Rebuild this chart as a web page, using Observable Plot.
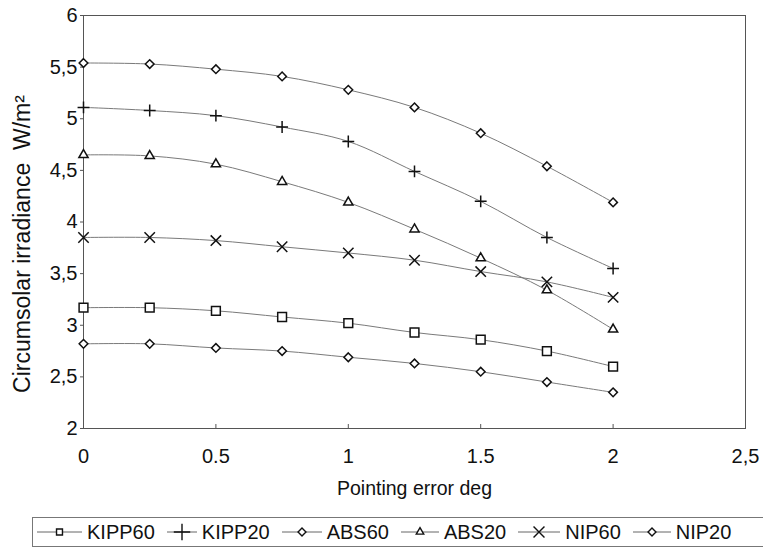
<!DOCTYPE html>
<html>
<head>
<meta charset="utf-8">
<script src="https://cdn.jsdelivr.net/npm/d3@7"></script>
<script src="https://cdn.jsdelivr.net/npm/@observablehq/plot@0.6"></script>
<style>
  html, body { margin: 0; padding: 0; background: #fff; overflow: hidden; }
  body { width: 763px; height: 554px; position: relative; font-family: "Liberation Sans", Arial, sans-serif; }
  #legend { position: absolute; left: 32px; top: 517px; width: 760px; height: 30px; border: 1px solid #777; box-sizing: border-box; display: flex; align-items: center; font-size: 20px; color: #111; white-space: nowrap; }
  .item { display: flex; align-items: center; margin-right: 12px; }
  .item svg { margin-right: 5px; }
</style>
</head>
<body>
<div id="chart"></div>
<div id="legend"></div>
<script>
// ---- data ----
const pointingError = [0, 0.25, 0.5, 0.75, 1, 1.25, 1.5, 1.75, 2];
const KIPP60 = [3.17, 3.17, 3.14, 3.08, 3.02, 2.93, 2.86, 2.75, 2.60];
const KIPP20 = [5.11, 5.08, 5.03, 4.92, 4.78, 4.49, 4.20, 3.85, 3.55];
const ABS60  = [5.54, 5.53, 5.48, 5.41, 5.28, 5.11, 4.86, 4.54, 4.19];
const ABS20  = [4.65, 4.64, 4.56, 4.39, 4.19, 3.93, 3.65, 3.34, 2.96];
const NIP60  = [3.85, 3.85, 3.82, 3.76, 3.70, 3.63, 3.52, 3.42, 3.27];
const NIP20  = [2.82, 2.82, 2.78, 2.75, 2.69, 2.63, 2.55, 2.45, 2.35];

const seriesNames = ["KIPP60", "KIPP20", "ABS60", "ABS20", "NIP60", "NIP20"];
const seriesValues = [KIPP60, KIPP20, ABS60, ABS20, NIP60, NIP20];

const xTicks = [0, 0.5, 1, 1.5, 2, 2.5];
const xTickLabels = ["0", "0.5", "1", "1.5", "2", "2,5"];
const yTicks = [2, 2.5, 3, 3.5, 4, 4.5, 5, 5.5, 6];
const yTickLabels = ["2", "2,5", "3", "3,5", "4", "4,5", "5", "5,5", "6"];

const xTitle = "Pointing error deg";
const yTitle = "Circumsolar irradiance\u00a0\u00a0W/m\u00b2";

// ---- styling (not data) ----
const symbols = { KIPP60: "square2", KIPP20: "plus", ABS60: "diamond2", ABS20: "triangle2", NIP60: "times", NIP20: "diamond2" };
const radii   = { KIPP60: 5.6, KIPP20: 3.9, ABS60: 3.9, ABS20: 4.4, NIP60: 4.8, NIP20: 3.9 };

const rows = [];
seriesNames.forEach((name, i) => {
  seriesValues[i].forEach((v, j) => rows.push({ series: name, x: pointingError[j], y: v }));
});

const marks = [
  Plot.frame({ stroke: "#555", strokeWidth: 1 }),
  Plot.axisX({ ticks: xTicks, tickFormat: (d) => xTickLabels[xTicks.indexOf(d)], tickSize: -4, tickPadding: 24, fontSize: 20, label: null, stroke: "#555" }),
  Plot.axisY({ ticks: yTicks, tickFormat: (d) => yTickLabels[yTicks.indexOf(d)], tickSize: 3, tickPadding: 3, fontSize: 20, label: null, stroke: "#555" }),
  Plot.text([xTitle], { frameAnchor: "bottom", dy: 66, text: (d) => d, fontSize: 19.5, fill: "#111" }),
  Plot.text([yTitle], { frameAnchor: "left", textAnchor: "middle", dx: -61, dy: 22, rotate: -90, text: (d) => d, fontSize: 23, fill: "#111" })
];
seriesNames.forEach((name) => {
  const data = rows.filter((r) => r.series === name);
  marks.push(Plot.line(data, { x: "x", y: "y", stroke: "#7a7a7a", strokeWidth: 1, curve: "catmull-rom" }));
});
seriesNames.forEach((name) => {
  const data = rows.filter((r) => r.series === name);
  marks.push(Plot.dot(data, { x: "x", y: "y", symbol: () => symbols[name], r: radii[name], stroke: "#111", strokeWidth: 1.5, fill: "white" }));
});

const chart = Plot.plot({
  width: 763,
  height: 510,
  marginLeft: 83,
  marginRight: 18,
  marginTop: 15,
  marginBottom: 82,
  style: { fontFamily: "'Liberation Sans', Arial, sans-serif", color: "#111", background: "white", overflow: "visible" },
  x: { domain: [0, 2.5] },
  y: { domain: [2, 6] },
  symbol: { type: "identity" },
  marks
});
document.getElementById("chart").appendChild(chart);

// ---- legend ----
const legend = document.getElementById("legend");
const swatchW = { KIPP60: 45, KIPP20: 30, ABS60: 40, ABS20: 38, NIP60: 42, NIP20: 38 };
const firstPad = 4;
seriesNames.forEach((name, i) => {
  const item = document.createElement("div");
  item.className = "item";
  if (i === 0) item.style.marginLeft = firstPad + "px";
  const w = swatchW[name];
  const sym = { square2: d3.symbolSquare2, plus: d3.symbolPlus, diamond2: d3.symbolDiamond2, triangle2: d3.symbolTriangle2, times: d3.symbolTimes }[symbols[name]];
  const size = name === "KIPP60" ? 45 : name === "KIPP20" ? 90 : name === "NIP60" ? 80 : 40;
  const svg = d3.create("svg").attr("width", w).attr("height", 20);
  svg.append("line").attr("x1", 0).attr("x2", w).attr("y1", 10).attr("y2", 10).attr("stroke", "#666").attr("stroke-width", 1);
  svg.append("path").attr("d", d3.symbol(sym, size)()).attr("transform", `translate(${w / 2},10)`).attr("fill", "white").attr("stroke", "#111").attr("stroke-width", 1.4);
  item.appendChild(svg.node());
  const span = document.createElement("span");
  span.textContent = name;
  item.appendChild(span);
  legend.appendChild(item);
});
</script>
</body>
</html>
